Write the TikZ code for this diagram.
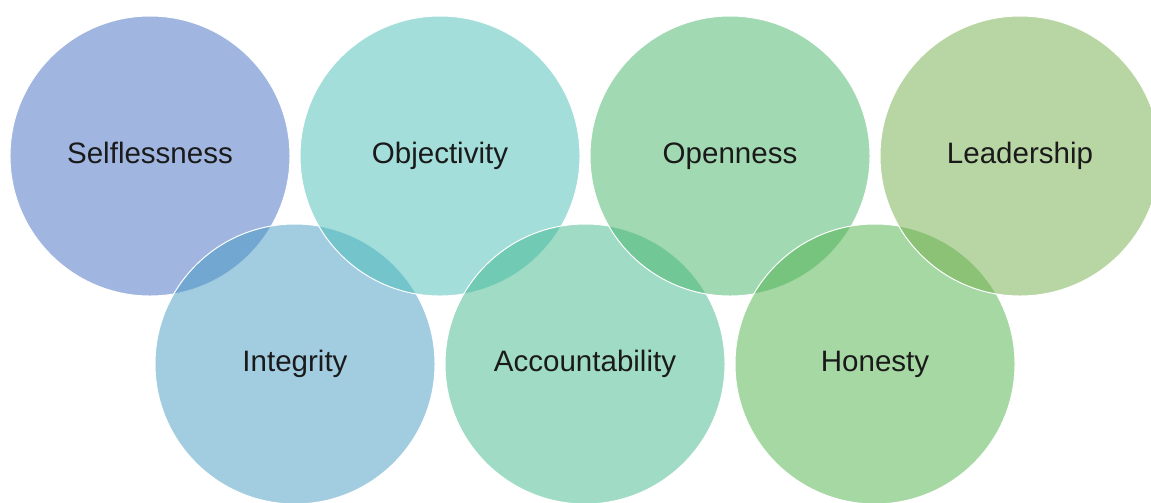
\documentclass[tikz,border=0pt]{standalone}
\usepackage{fontspec}
\setmainfont{Liberation Sans}
\definecolor{selfc}{RGB}{65,109,193}
\definecolor{integc}{RGB}{69,153,193}
\definecolor{objc}{RGB}{71,189,183}
\definecolor{accc}{RGB}{65,183,141}
\definecolor{openc}{RGB}{67,179,103}
\definecolor{honc}{RGB}{77,177,73}
\definecolor{leadc}{RGB}{113,173,73}
\definecolor{txtc}{RGB}{26,26,26}
\tikzset{
  value/.style={circle, minimum size=7cm, inner sep=0pt, fill=#1, fill opacity=0.5,
    draw=white, draw opacity=1, line width=0.7pt, text opacity=1, text=txtc,
    font=\fontsize{21}{24}\selectfont, text height=0.55cm, text depth=0.2cm}
}
\begin{document}
\begin{tikzpicture}
    \useasboundingbox (0,0) rectangle (28.775,-12.55);
    \clip (0,0) rectangle (28.775,-12.55);
    % top row and bottom row, drawn zigzag so each border lies over the last one
    \node[value=selfc]  (self)  at (3.75,-3.9)   {Selflessness};
    \node[value=integc] (integ) at (7.375,-9.1)  {Integrity};
    \node[value=objc]   (obj)   at (11.0,-3.9)   {Objectivity};
    \node[value=accc]   (acc)   at (14.625,-9.1) {Accountability};
    \node[value=openc]  (open)  at (18.25,-3.9)  {Openness};
    \node[value=honc]   (hon)   at (21.875,-9.1) {Honesty};
    \node[value=leadc]  (lead)  at (25.5,-3.9)   {Leadership};
\end{tikzpicture}
\end{document}
